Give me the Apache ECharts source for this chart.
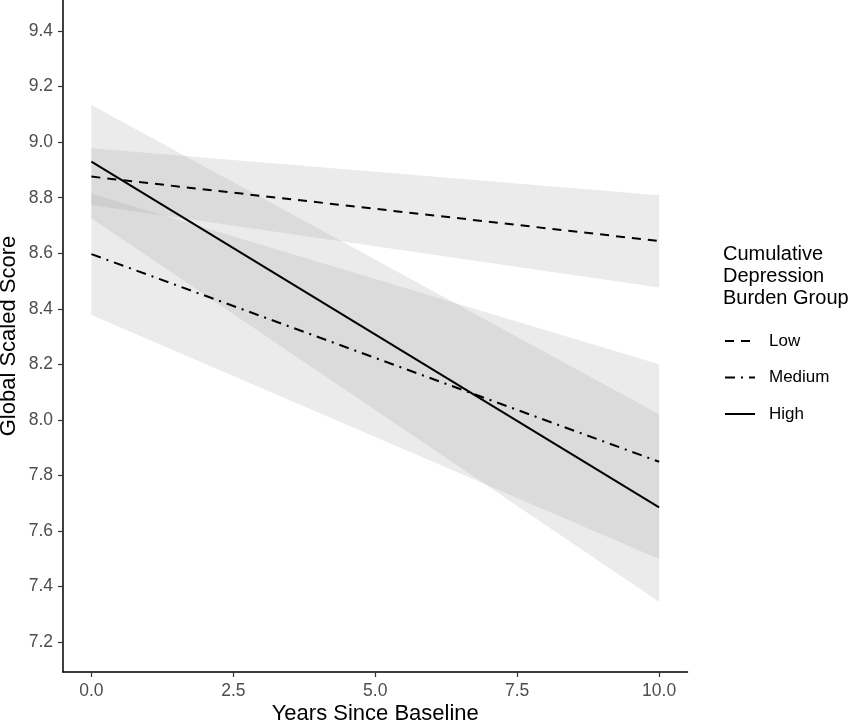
<!DOCTYPE html>
<html>
<head>
<meta charset="utf-8">
<script src="https://cdn.jsdelivr.net/npm/echarts@6/dist/echarts.min.js"></script>
<style>html,body{margin:0;padding:0;background:#fff;}#c{width:865px;height:723px;}</style>
</head>
<body>
<div id="c"></div>
<script>
const years = [0, 10];
const lowFit = [8.876, 8.644];
const lowLower = [8.774, 8.477];
const lowUpper = [8.978, 8.809];
const medFit = [8.597, 7.849];
const medLower = [8.378, 7.499];
const medUpper = [8.814, 8.200];
const highFit = [8.930, 7.685];
const highLower = [8.726, 7.345];
const highUpper = [9.134, 8.020];
const xTicks = [0, 2.5, 5, 7.5, 10];
const yTicks = [7.2, 7.4, 7.6, 7.8, 8.0, 8.2, 8.4, 8.6, 8.8, 9.0, 9.2, 9.4];
const groups = ['Low', 'Medium', 'High'];

const FONT = 'Liberation Sans, Arial, sans-serif';

function ribbon(name, lo, hi) {
  return {
    name: name,
    type: 'custom',
    clip: true,
    z: 1,
    silent: true,
    data: years.map((x, i) => [x, lo[i], hi[i]]),
    renderItem: function (params, api) {
      if (params.dataIndexInside !== 0) return null;
      const n = params.dataInsideLength;
      const upper = [], lower = [];
      for (let i = 0; i < n; i++) {
        const x = api.value(0, i);
        lower.push(api.coord([x, api.value(1, i)]));
        upper.push(api.coord([x, api.value(2, i)]));
      }
      return {
        type: 'polygon',
        shape: { points: lower.concat(upper.reverse()) },
        style: { fill: 'rgba(153,153,153,0.2)', stroke: null }
      };
    }
  };
}

function fitLine(name, vals, dash) {
  return {
    name: name,
    type: 'line',
    z: 5,
    symbol: 'none',
    data: years.map((x, i) => [x, vals[i]]),
    lineStyle: { color: '#000', width: 2, type: dash },
    itemStyle: { color: '#000' },
    emphasis: { disabled: true }
  };
}

const chart = echarts.init(document.getElementById('c'), null, { renderer: 'canvas' });
chart.setOption({
  backgroundColor: '#fff',
  animation: false,
  grid: { left: 63, right: 177.5, top: 0, bottom: 51, containLabel: false, outerBoundsMode: 'none' },
  title: {
    text: 'Cumulative\nDepression\nBurden Group',
    left: 723, top: 244,
    padding: 0,
    textStyle: { fontFamily: FONT, fontSize: 20, fontWeight: 'normal', color: '#000', lineHeight: 21.7 }
  },
  legend: {
    data: groups,
    orient: 'vertical',
    left: 724, top: 332,
    padding: 0,
    itemWidth: 30, itemHeight: 18,
    itemGap: 18.5,
    itemStyle: { opacity: 0 },
    textStyle: { fontFamily: FONT, fontSize: 17, color: '#000', lineHeight: 18, padding: [0, 0, 0, 9] },
    selectedMode: false
  },
  xAxis: {
    type: 'value',
    min: -0.5, max: 10.5,
    name: 'Years Since Baseline',
    nameLocation: 'middle',
    nameGap: 31,
    nameMoveOverlap: false,
    nameTextStyle: { fontFamily: FONT, fontSize: 22, color: '#000' },
    splitLine: { show: false },
    axisLine: { show: true, onZero: false, lineStyle: { color: '#000', width: 1.5 } },
    axisTick: { show: true, customValues: xTicks, length: 5, lineStyle: { color: '#333', width: 1.2 } },
    axisLabel: { customValues: xTicks, formatter: v => v.toFixed(1), fontFamily: FONT, fontSize: 17.5, color: '#4d4d4d', margin: 10 }
  },
  yAxis: {
    type: 'value',
    min: 7.092, max: 9.512,
    name: 'Global Scaled Score',
    nameLocation: 'middle',
    nameRotate: 90,
    nameGap: 43,
    nameMoveOverlap: false,
    nameTextStyle: { fontFamily: FONT, fontSize: 22, color: '#000' },
    splitLine: { show: false },
    axisLine: { show: true, onZero: false, lineStyle: { color: '#000', width: 1.5 } },
    axisTick: { show: true, customValues: yTicks, length: 5, lineStyle: { color: '#333', width: 1.2 } },
    axisLabel: { customValues: yTicks, formatter: v => v.toFixed(1), fontFamily: FONT, fontSize: 17.5, color: '#4d4d4d', margin: 10 }
  },
  series: [
    ribbon('Low CI', lowLower, lowUpper),
    ribbon('Medium CI', medLower, medUpper),
    ribbon('High CI', highLower, highUpper),
    fitLine('Low', lowFit, [9, 7]),
    fitLine('Medium', medFit, [10, 6, 2, 6]),
    fitLine('High', highFit, 'solid')
  ]
});
</script>
</body>
</html>
